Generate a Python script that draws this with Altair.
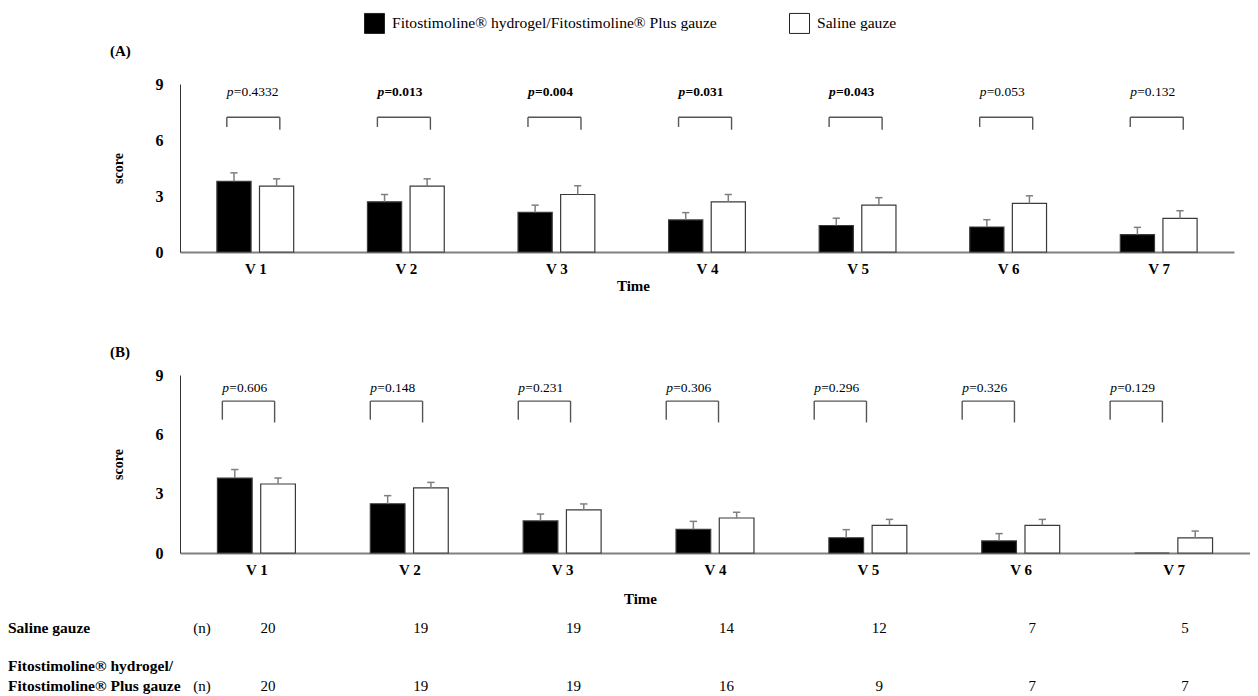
import altair as alt
import pandas as pd

FONT = "Liberation Serif"
FITO = "Fitostimoline® hydrogel/Fitostimoline® Plus gauze"
SAL = "Saline gauze"

visits = [1, 2, 3, 4, 5, 6, 7]

# Panel A
a_fito = [3.79, 2.69, 2.12, 1.72, 1.42, 1.34, 0.93]
a_fito_err = [0.45, 0.39, 0.39, 0.39, 0.39, 0.39, 0.39]
a_sal = [3.53, 3.53, 3.08, 2.69, 2.51, 2.60, 1.80]
a_sal_err = [0.39, 0.39, 0.47, 0.39, 0.40, 0.41, 0.41]
a_p = ["0.4332", "0.013", "0.004", "0.031", "0.043", "0.053", "0.132"]
a_bold = [False, True, True, True, True, False, False]

# Panel B
b_fito = [3.79, 2.49, 1.62, 1.20, 0.77, 0.61, 0.0]
b_fito_err = [0.43, 0.41, 0.35, 0.40, 0.41, 0.37, 0.0]
b_sal = [3.49, 3.29, 2.18, 1.77, 1.40, 1.40, 0.76]
b_sal_err = [0.30, 0.28, 0.30, 0.29, 0.30, 0.30, 0.35]
b_p = ["0.606", "0.148", "0.231", "0.306", "0.296", "0.326", "0.129"]
b_bold = [False] * 7

# numbers of patients
n_saline = [20, 19, 19, 14, 12, 7, 5]
n_fito = [20, 19, 19, 16, 9, 7, 7]


def bars_df(fito, fito_err, sal, sal_err):
    rows = []
    for i, v in enumerate(visits):
        rows.append({"idx": v, "series": FITO, "side": -1, "value": fito[i], "err": fito_err[i]})
        rows.append({"idx": v, "series": SAL, "side": 1, "value": sal[i], "err": sal_err[i]})
    return pd.DataFrame(rows)


def p_df(pvals, bold):
    return pd.DataFrame({"idx": visits, "p": pvals, "bold": bold})


XS = alt.Scale(domain=[0.5, 7.5], nice=False, zero=False)
YS = alt.Scale(domain=[0, 9], nice=False, zero=True)


def X(field):
    return alt.X(field, scale=XS, title="Time")


def Yd(val):
    return alt.Y(datum=val, scale=YS, title="score")


def panel(letter, letter_y, bdf, pdf, width, height, br_c0, br_step, br_half,
          br_top, br_lb, br_rb, text_y, legend, time_x, time_y, extra=None):
    xaxis = alt.Axis(values=visits, labelExpr="'V ' + datum.value", ticks=False, grid=False,
                     domainColor="#808080", domainWidth=2, labelFont=FONT, labelFontWeight="bold",
                     labelFontSize=15, labelColor="black", labelPadding=9, labelFlush=False,
                     titleFont=FONT, titleFontWeight="bold", titleFontSize=15,
                     titleColor="black", titleX=time_x, titleY=time_y, titleBaseline="middle",
                     titleAlign="center")
    yaxis = alt.Axis(values=[0, 3, 6, 9], ticks=False, grid=False, domainColor="#333333",
                     domainWidth=1, labelFont=FONT, labelFontWeight="bold", labelFontSize=16,
                     labelColor="black", labelPadding=17, titleFont=FONT,
                     titleFontWeight="bold", titleFontSize=14, titleColor="black",
                     titleX=-62, titleY=height / 2, titleAngle=270, titleBaseline="middle",
                     titleAlign="center")

    base = alt.Chart(bdf).transform_calculate(
        xa="datum.idx + datum.side*0.028",
        xb="datum.idx + datum.side*0.255",
        xc="datum.idx + datum.side*0.1415",
        top="datum.value + datum.err",
        c0="datum.idx + datum.side*0.1415 - 0.024",
        c1="datum.idx + datum.side*0.1415 + 0.024",
    )
    bars = base.mark_bar(stroke="#3a3a3a", strokeWidth=1.2).encode(
        x=alt.X("xa:Q", scale=XS, axis=xaxis, title="Time"),
        x2="xb:Q",
        y=alt.Y("value:Q", scale=YS, axis=yaxis, title="score"),
        y2=alt.datum(0),
        fill=alt.Fill("series:N", scale=alt.Scale(domain=[FITO, SAL], range=["black", "white"]),
                      legend=legend),
    )
    errb = base.transform_filter("datum.err > 0")
    err_v = errb.mark_rule(color="#7f7f7f", strokeWidth=1.5).encode(
        x=X("xc:Q"),
        y=alt.Y("value:Q", scale=YS, title="score"),
        y2="top:Q",
    )
    err_c = errb.mark_rule(color="#7f7f7f", strokeWidth=1.5).encode(
        x=X("c0:Q"), x2="c1:Q",
        y=alt.Y("top:Q", scale=YS, title="score"),
    )

    pb = alt.Chart(pdf).transform_calculate(
        bc=f"{br_c0} + (datum.idx - 1)*{br_step}",
    ).transform_calculate(
        bl=f"datum.bc - {br_half}",
        br=f"datum.bc + {br_half}",
        eq="'=' + datum.p",
    )
    bcol = "#555555"
    b_top = pb.mark_rule(color=bcol, strokeWidth=1.4).encode(
        x=X("bl:Q"), x2="br:Q", y=Yd(br_top))
    b_left = pb.mark_rule(color=bcol, strokeWidth=1.4).encode(
        x=X("bl:Q"), y=Yd(br_top), y2=alt.datum(br_lb))
    b_right = pb.mark_rule(color=bcol, strokeWidth=1.4).encode(
        x=X("br:Q"), y=Yd(br_top), y2=alt.datum(br_rb))

    texts = []
    for weight, flt in (("normal", "!datum.bold"), ("bold", "datum.bold")):
        sub = pb.transform_filter(flt)
        texts.append(sub.mark_text(align="left", baseline="middle", font=FONT, fontSize=13.5,
                                   fontStyle="italic", fontWeight=weight, color="black").encode(
            x=X("bl:Q"), y=Yd(text_y), text=alt.value("p")))
        texts.append(sub.mark_text(align="left", baseline="middle", font=FONT, fontSize=13.5,
                                   fontWeight=weight, color="black", dx=7).encode(
            x=X("bl:Q"), y=Yd(text_y), text="eq:N"))

    letter_txt = alt.Chart(pd.DataFrame({"t": [letter]})).mark_text(
        align="left", baseline="middle", font=FONT, fontSize=15, fontWeight="bold",
        color="black").encode(x=alt.value(-70), y=alt.value(letter_y), text="t:N")

    main = alt.layer(bars, err_v, err_c, b_top, b_left, b_right, *texts, letter_txt)
    if extra is not None:
        chart = alt.layer(main, extra).resolve_scale(y="independent")
    else:
        chart = main
    return chart.properties(width=width, height=height)


# ---- table below panel B ----
tbl_rows = []
for i, v in enumerate(visits):
    tbl_rows.append({"idx": v, "row": "sal", "n": n_saline[i]})
    tbl_rows.append({"idx": v, "row": "fito", "n": n_fito[i]})
tbl_df = pd.DataFrame(tbl_rows)
lab_df = pd.DataFrame({"row": ["sal", "fito"],
                       "label": ["Saline gauze", "Fitostimoline® Plus gauze"]})
lab2_df = pd.DataFrame({"row": ["fito"], "label": ["Fitostimoline® hydrogel/"]})
nlab_df = pd.DataFrame({"row": ["sal", "fito"], "label": ["(n)", "(n)"]})

B_W, B_H = 1070, 178
tscale = alt.Scale(type="point", domain=["sal", "fito"], range=[252.5, 310.5], padding=0)
t_nums = alt.Chart(tbl_df).transform_calculate(xn="datum.idx + 0.075").mark_text(
    align="center", baseline="middle", font=FONT, fontSize=15, color="black").encode(
    x=X("xn:Q"),
    y=alt.Y("row:N", scale=tscale, axis=None),
    text="n:Q")
t_labs = alt.Chart(lab_df).mark_text(align="left", baseline="middle", font=FONT, fontSize=15.5,
                                     fontWeight="bold", color="black").encode(
    x=alt.value(-172), y=alt.Y("row:N", scale=tscale, axis=None), text="label:N")
t_labs2 = alt.Chart(lab2_df).mark_text(align="left", baseline="middle", font=FONT, fontSize=15.5,
                                       fontWeight="bold", color="black", dy=-20).encode(
    x=alt.value(-172), y=alt.Y("row:N", scale=tscale, axis=None), text="label:N")
t_n = alt.Chart(nlab_df).mark_text(align="center", baseline="middle", font=FONT, fontSize=15,
                                   color="black").encode(
    x=alt.value(22), y=alt.Y("row:N", scale=tscale, axis=None), text="label:N")
table = alt.layer(t_nums, t_labs, t_labs2, t_n)

legend_a = alt.Legend(orient="none", legendX=184, legendY=-71.3, direction="horizontal",
                      title=None, symbolType="square", symbolSize=400,
                      symbolStrokeColor="#222222", symbolStrokeWidth=1, labelFont=FONT,
                      labelFontSize=15.6, labelColor="black", labelLimit=600, labelOffset=7,
                      columnPadding=70, padding=0)

panel_a = panel("(A)", -33, bars_df(a_fito, a_fito_err, a_sal, a_sal_err), p_df(a_p, a_bold),
                1054, 168, 0.987, 1.0, 0.176, 7.22, 6.7, 6.55, 8.59, legend_a, 453, 33)
panel_b = panel("(B)", -23.5, bars_df(b_fito, b_fito_err, b_sal, b_sal_err), p_df(b_p, b_bold),
                B_W, B_H, 0.948, 0.968, 0.171, 7.68, 6.74, 6.6, 8.36, None, 460, 45,
                extra=table)

chart = alt.vconcat(panel_a, panel_b, spacing=51).resolve_scale(fill="independent").properties(
    padding={"left": 0, "top": 4, "right": 0, "bottom": 0}
).configure_view(stroke=None)

chart.save("out.html", embed_options={"renderer": "svg", "actions": False})
